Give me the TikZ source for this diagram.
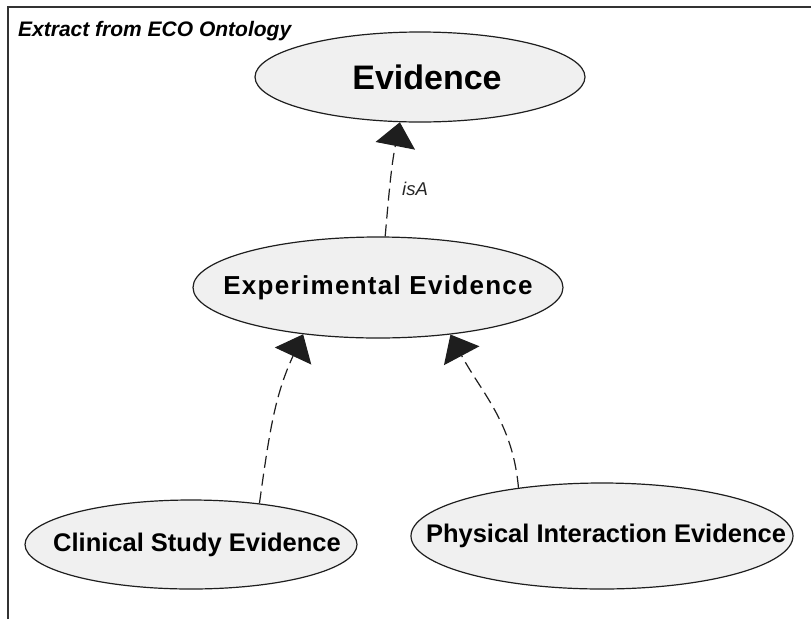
\documentclass[tikz,border=0pt]{standalone}
\usepackage{fontspec}
\usepackage{graphicx}
\setmainfont{Liberation Sans}
\newfontfamily\spacedsans[LetterSpace=5]{Liberation Sans}
\usetikzlibrary{arrows.meta,shapes.geometric}

% zero-width centred label, optionally nudged sideways by half of #1
\newcommand{\ovaltext}[2][0pt]{\makebox[0pt]{\hspace{#1}#2}}

\definecolor{ovalfill}{HTML}{F0F0F0}
\definecolor{inkline}{HTML}{1E1E1E}

\tikzset{
  oval/.style={ellipse, draw=inkline, line width=1.2pt, fill=ovalfill,
               inner sep=0pt, text=black},
  isa/.style={draw=inkline, line width=1.2pt, dash pattern=on 12pt off 6pt,
              -{Triangle[length=24pt,width=40pt]}},
  frameline/.style={draw=black!80, line width=1.4pt},
  titletext/.style={font=\fontsize{21}{24}\selectfont\bfseries\itshape, inner sep=0pt},
  edgetext/.style={font=\fontsize{18.5}{21}\selectfont\itshape, text=black!85, inner sep=0pt}
}

\begin{document}
\begin{tikzpicture}[x=1pt,y=1pt]
  \useasboundingbox (0,0) rectangle (811,-619);

  % outer frame (top and left edges)
  \draw[frameline] (8,-619) -- (8,-7) -- (811,-7);

  \node[titletext, anchor=base west] (title) at (18,-36) {Extract from ECO Ontology};

  % ontology classes
  \node[oval, minimum width=330pt, minimum height=90pt] (ev) at (420,-77)
    {\fontsize{34}{40}\selectfont\bfseries\ovaltext[14pt]{Evidence}};
  \node[oval, minimum width=370pt, minimum height=101pt] (ee) at (378,-287.5)
    {\fontsize{26}{31}\selectfont\spacedsans\bfseries\ovaltext{Experimental Evidence}};
  \node[oval, minimum width=332pt, minimum height=89pt] (cse) at (191,-544.5)
    {\fontsize{25.5}{30}\selectfont\bfseries\ovaltext[12pt]{Clinical Study Evidence}};
  \node[oval, minimum width=382pt, minimum height=106pt] (pie) at (602,-536)
    {\fontsize{25.5}{30}\selectfont\bfseries\ovaltext[8pt]{Physical Interaction Evidence}};

  % isA relations
  \draw[isa] (ee.82) to[out=85, in=259] (ev.246);
  \draw[isa] (cse.31) to[out=82, in=245] (ee.212);
  \draw[isa] (pie.150) to[out=95, in=298] (ee.327);

  \node[edgetext] (isalabel) at (415,-188.5) {isA};
\end{tikzpicture}
\end{document}
